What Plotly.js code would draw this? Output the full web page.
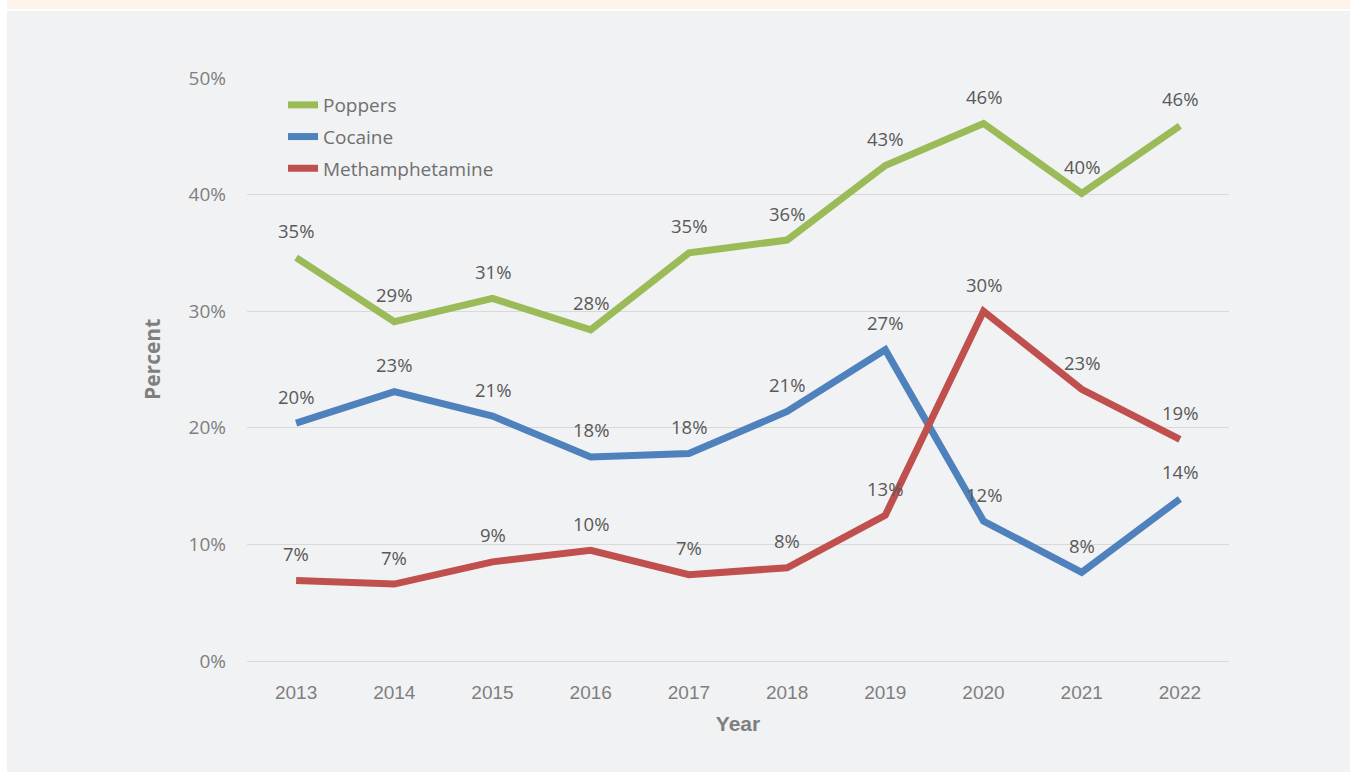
<!DOCTYPE html>
<html>
<head>
<meta charset="utf-8">
<script src="https://cdn.plot.ly/plotly-3.0.1.min.js"></script>
<style>html,body{margin:0;padding:0;background:#fff;}#chart{width:1353px;height:772px;}</style>
</head>
<body>
<div id="chart"></div>
<script>
const years = [2013, 2014, 2015, 2016, 2017, 2018, 2019, 2020, 2021, 2022];
const poppers = [34.6, 29.1, 31.1, 28.4, 35.0, 36.1, 42.5, 46.1, 40.1, 45.9];
const cocaine = [20.4, 23.1, 21.0, 17.5, 17.8, 21.4, 26.7, 12.0, 7.6, 13.9];
const meth = [6.9, 6.6, 8.5, 9.5, 7.4, 8.0, 12.5, 30.0, 23.3, 19.0];
const seriesNames = ["Poppers", "Cocaine", "Methamphetamine"];
const seriesColors = ["#9bbb59", "#4f81bd", "#c0504d"];
const yTicks = [0, 10, 20, 30, 40, 50];

const W = 1353, H = 772;
const L = 247, R = 124, T = 78, B = 111;
const pw = W - L - R, ph = H - T - B;
function px(x) { return (x - L) / pw; }
function py(y) { return (H - B - y) / ph; }

const allSeries = [poppers, cocaine, meth];
const traces = allSeries.map((vals, i) => ({
  x: years, y: vals, type: "scatter", mode: "lines", name: seriesNames[i],
  legendgroup: "g" + i,
  line: { color: seriesColors[i], width: 7 }, hoverinfo: "x+y"
}));

const annotations = [];
allSeries.forEach((vals) => {
  vals.forEach((v, j) => {
    annotations.push({
      x: years[j], y: v, xref: "x", yref: "y", text: Math.round(v) + "%",
      showarrow: false, yshift: 27, xanchor: "center", yanchor: "middle",
      font: { family: "Open Sans, sans-serif", size: 18.5, color: "#595959" }
    });
  });
});
annotations.push({
  x: px(152), y: py(360), xref: "paper", yref: "paper", text: "Percent",
  showarrow: false, textangle: -90, xanchor: "center", yanchor: "middle",
  font: { family: "Open Sans, sans-serif", size: 21, color: "#7f7f7f", weight: "bold" }
});

const shapes = [
  { type: "rect", xref: "paper", yref: "paper", layer: "below",
    x0: px(7), x1: px(1350), y0: py(0), y1: py(9), fillcolor: "#fdf5e9", line: { width: 0 } },
  { type: "rect", xref: "paper", yref: "paper", layer: "below",
    x0: px(7), x1: px(1350), y0: py(11), y1: py(772), fillcolor: "#f1f2f4", line: { width: 0 } }
];

const layout = {
  width: W, height: H,
  margin: { l: L, r: R, t: T, b: B, pad: 0 },
  paper_bgcolor: "#ffffff", plot_bgcolor: "rgba(0,0,0,0)",
  showlegend: true,
  legend: {
    x: px(283), y: py(86), xanchor: "left", yanchor: "top",
    bgcolor: "rgba(0,0,0,0)", tracegroupgap: 4, itemwidth: 30,
    font: { family: "Open Sans, sans-serif", size: 19, color: "#6f6f6f" }
  },
  xaxis: {
    range: [2012.5, 2022.5], tickvals: years, ticktext: years.map(String),
    showgrid: false, zeroline: false, showline: false, ticks: "",
    ticklabelstandoff: 18,
    tickfont: { family: "Liberation Sans, sans-serif", size: 19, color: "#7f7f7f" },
    title: { text: "Year", standoff: 14,
      font: { family: "Liberation Sans, sans-serif", size: 21, color: "#7f7f7f", weight: "bold" } }
  },
  yaxis: {
    range: [0, 50], tickvals: yTicks, ticktext: yTicks.map(v => v + "%"),
    showgrid: true, gridcolor: "#d9d9d9", gridwidth: 1,
    zeroline: true, zerolinecolor: "#d9d9d9", zerolinewidth: 1,
    showline: false, ticks: "",
    ticklabelstandoff: 20,
    tickfont: { family: "Open Sans, sans-serif", size: 19, color: "#7f7f7f" }
  },
  annotations: annotations,
  shapes: shapes
};

Plotly.newPlot("chart", traces, layout, { displayModeBar: false, staticPlot: true });
</script>
</body>
</html>
